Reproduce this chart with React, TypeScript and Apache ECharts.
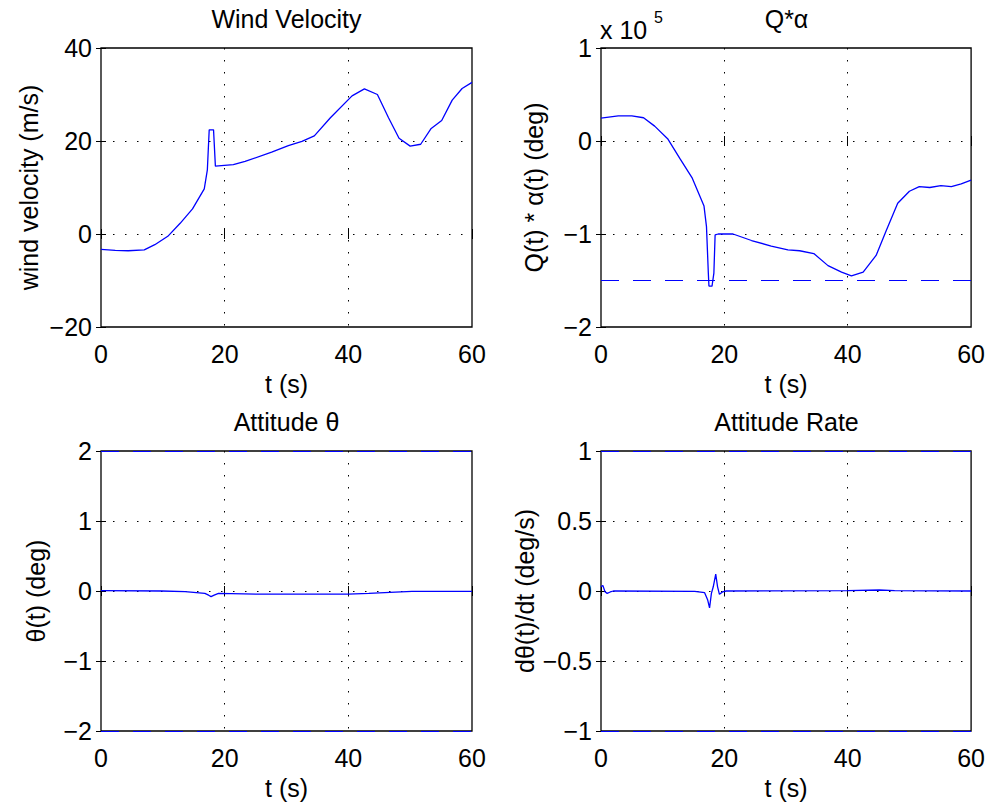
import React, { useEffect, useRef } from "react";
import * as echarts from "echarts";

// ---------- data ----------
const timeTicks = [0, 20, 40, 60];

const windT = [0, 2.3, 4.4, 7.0, 8.7, 10.8, 12.8, 14.8, 16.7, 17.2, 17.5, 18.2, 18.5, 21.4, 23.3, 27.6, 30.3, 32.5, 34.5, 37.1, 40.6, 42.6, 44.7, 46.5, 48.2, 50.0, 51.7, 53.4, 55.1, 56.8, 58.4, 60];
const windV = [-3.3, -3.5, -3.6, -3.4, -2.3, -0.5, 2.3, 5.4, 9.7, 13.8, 22.4, 22.4, 14.6, 14.9, 15.6, 17.6, 19.0, 19.9, 21.1, 25.0, 29.7, 31.2, 30.0, 25.0, 20.6, 18.9, 19.3, 22.7, 24.4, 28.8, 31.3, 32.6];

// Q*alpha in units of 1e5
const qaT = [0, 2.8, 5.0, 6.9, 8.7, 10.8, 12.8, 14.8, 16.7, 17.1, 17.4, 17.5, 18.0, 18.3, 18.5, 19.0, 21.4, 24.4, 27.6, 30.3, 32.2, 34.5, 36.8, 39.0, 40.6, 42.5, 44.6, 46.2, 48.1, 50.0, 51.6, 53.3, 55.1, 56.8, 58.4, 60];
const qaV = [0.247, 0.27, 0.27, 0.25, 0.16, 0.025, -0.19, -0.40, -0.70, -0.92, -1.42, -1.56, -1.56, -1.42, -1.01, -1.0, -1.0, -1.07, -1.13, -1.17, -1.18, -1.21, -1.34, -1.41, -1.45, -1.41, -1.23, -0.97, -0.67, -0.54, -0.49, -0.50, -0.48, -0.49, -0.46, -0.42];
const qaLimit = -1.5;

const thetaT = [0, 9.8, 13.6, 16.8, 17.4, 17.8, 18.3, 19.0, 25.5, 40, 43.3, 47.6, 50.3, 60];
const thetaV = [0.005, 0, -0.01, -0.035, -0.06, -0.08, -0.06, -0.035, -0.045, -0.045, -0.035, -0.015, -0.005, -0.005];
const thetaLimits = [2, -2];

const rateT = [0, 0.3, 0.65, 1.0, 1.5, 2, 15.2, 16.8, 17.3, 17.6, 17.9, 18.2, 18.6, 18.9, 19.2, 19.7, 20.3, 40, 45.1, 47.6, 60];
const rateV = [0.03, 0.04, -0.005, -0.017, -0.007, 0, -0.002, -0.012, -0.065, -0.12, -0.017, 0.03, 0.12, 0.03, -0.024, -0.007, 0, 0.002, 0.007, 0.002, 0];
const rateLimits = [1, -1];

const panels = [
  { title: "Wind Velocity", ylabel: "wind velocity (m/s)", min: -20, max: 40, interval: 20, t: windT, v: windV, limits: [] as number[], gap: 60 },
  { title: "Q*α", ylabel: "Q(t) * α(t) (deg)", min: -2, max: 1, interval: 1, t: qaT, v: qaV, limits: [qaLimit], gap: 55 },
  { title: "Attitude θ", ylabel: "θ(t) (deg)", min: -2, max: 2, interval: 1, t: thetaT, v: thetaV, limits: thetaLimits, gap: 53 },
  { title: "Attitude Rate", ylabel: "dθ(t)/dt (deg/s)", min: -1, max: 1, interval: 0.5, t: rateT, v: rateV, limits: rateLimits, gap: 64 },
];

const FONT = "'Liberation Sans', Arial, Helvetica, sans-serif";
const FS = 25;

const boxes = [
  { left: 101, top: 48, width: 371, height: 279 },
  { left: 601, top: 48, width: 371, height: 279 },
  { left: 101, top: 451, width: 371, height: 280 },
  { left: 601, top: 451, width: 371, height: 280 },
];

const fmt = (v: number) => String(v).replace("-", "\u2212");

export default function App() {
  const ref = useRef<HTMLDivElement>(null);
  useEffect(() => {
    document.body.style.margin = "0";
    const chart = echarts.init(ref.current!, null, { renderer: "svg" });
    const grid: any[] = [];
    const xAxis: any[] = [];
    const yAxis: any[] = [];
    const series: any[] = [];
    const graphic: any[] = [];
    panels.forEach((p, i) => {
      const b = boxes[i];
      grid.push({ left: b.left, top: b.top, width: b.width, height: b.height, show: true, borderColor: "#000", borderWidth: 1.3, backgroundColor: "#fff" });
      const tickStyle = { inside: true, length: 5, lineStyle: { color: "#000", width: 1 } };
      xAxis.push({
        type: "value", gridIndex: i, min: timeTicks[0], max: timeTicks[timeTicks.length - 1], interval: 20,
        position: "bottom",
        axisLine: { show: false },
        axisTick: tickStyle,
        axisLabel: { color: "#000", fontSize: FS, fontFamily: FONT, margin: 14 },
        splitLine: { show: true, showMinLine: false, showMaxLine: false, lineStyle: { color: "#000", type: [1.5, 10.5], width: 1 } },
        name: "t (s)", nameLocation: "middle", nameGap: 44,
        nameTextStyle: { color: "#000", fontSize: FS, fontFamily: FONT },
      });
      xAxis.push({
        type: "value", gridIndex: i, min: 0, max: 60, interval: 20, position: "top",
        axisLine: { show: false }, axisTick: tickStyle, axisLabel: { show: false }, splitLine: { show: false },
      });
      yAxis.push({
        type: "value", gridIndex: i, min: p.min, max: p.max, interval: p.interval, position: "left",
        axisLine: { show: false },
        axisTick: tickStyle,
        axisLabel: { color: "#000", fontSize: FS, fontFamily: FONT, margin: 9, formatter: fmt },
        splitLine: { show: true, showMinLine: false, showMaxLine: false, lineStyle: { color: "#000", type: [1.5, 10.5], width: 1 } },
        name: p.ylabel, nameLocation: "middle", nameGap: p.gap, nameRotate: 90,
        nameTextStyle: { color: "#000", fontSize: FS, fontFamily: FONT },
      });
      yAxis.push({
        type: "value", gridIndex: i, min: p.min, max: p.max, interval: p.interval, position: "right",
        axisLine: { show: false }, axisTick: tickStyle, axisLabel: { show: false }, splitLine: { show: false },
      });
      series.push({
        type: "line", xAxisIndex: i * 2, yAxisIndex: i * 2,
        data: p.t.map((t, k) => [t, p.v[k]]),
        showSymbol: false, symbol: "none", silent: true,
        lineStyle: { color: "#0000ff", width: 1.3 },
        markLine: p.limits.length
          ? {
              silent: true, symbol: "none", label: { show: false },
              lineStyle: { color: "#0000ff", type: [18, 14], width: 1.2 },
              data: p.limits.map((y) => ({ yAxis: y })),
            }
          : undefined,
      });
      graphic.push({
        type: "text", x: b.left + b.width / 2, y: b.top - 29,
        style: { text: p.title, fill: "#000", font: `${FS}px ${FONT}`, textAlign: "center", textVerticalAlign: "middle" },
      });
    });
    graphic.push({ type: "text", x: 600, y: 30, style: { text: "x 10", fill: "#000", font: `${FS}px ${FONT}`, textAlign: "left", textVerticalAlign: "middle" } });
    graphic.push({ type: "text", x: 654, y: 17, style: { text: "5", fill: "#000", font: `16px ${FONT}`, textAlign: "left", textVerticalAlign: "middle" } });

    chart.setOption({
      animation: false,
      backgroundColor: "#fff",
      textStyle: { fontFamily: FONT },
      grid, xAxis, yAxis, series, graphic,
    });
    return () => chart.dispose();
  }, []);
  return <div ref={ref} style={{ width: 988, height: 806 }} />;
}
